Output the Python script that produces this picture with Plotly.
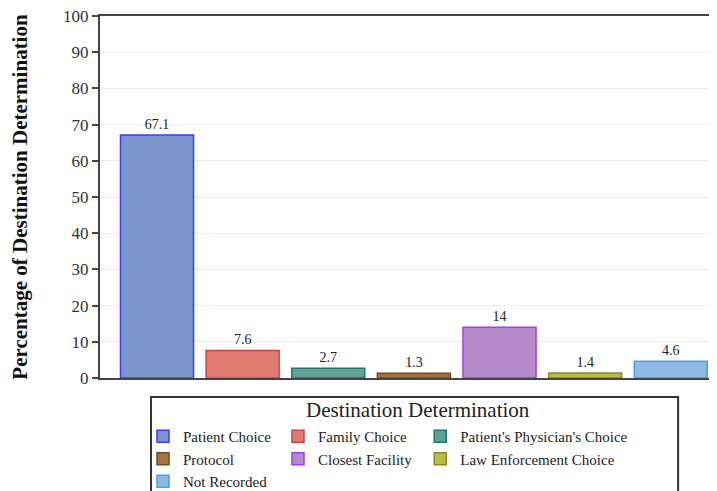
import plotly.graph_objects as go

categories = ["Patient Choice", "Family Choice", "Patient's Physician's Choice",
              "Protocol", "Closest Facility", "Law Enforcement Choice", "Not Recorded"]
values = [67.1, 7.6, 2.7, 1.3, 14, 1.4, 4.6]
labels = ["67.1", "7.6", "2.7", "1.3", "14", "1.4", "4.6"]
fills = ["#7b96cd", "#e07c6f", "#5fa295", "#a5733f", "#b689c9", "#b9b94c", "#8fb9e2"]
lines = ["#3b3bf5", "#d0404a", "#1e7a6a", "#7a4a1c", "#a040e8", "#8c8c1a", "#40a0f5"]
legend_groups = ["legend", "legend2", "legend3", "legend", "legend2", "legend3", "legend"]
ytick_vals = [0, 10, 20, 30, 40, 50, 60, 70, 80, 90, 100]

FONT = "Liberation Serif, Times New Roman, serif"

fig = go.Figure()
for i, cat in enumerate(categories):
    fig.add_trace(go.Bar(
        x=[cat], y=[values[i]], name=cat,
        marker=dict(color=fills[i], line=dict(color=lines[i], width=1.5)),
        width=0.853,
        text=[labels[i]], textposition="outside",
        textfont=dict(family=FONT, size=14, color="#222"),
        cliponaxis=False,
        legend=legend_groups[i],
    ))

leg_common = dict(orientation="v", yanchor="top", xanchor="left",
                  bgcolor="rgba(0,0,0,0)", borderwidth=0,
                  font=dict(family=FONT, size=15, color="#222"),
                  itemclick=False, itemdoubleclick=False, tracegroupgap=0)

fig.update_layout(
    width=709, height=483,
    margin=dict(l=92, r=0, t=8, b=113, autoexpand=False),
    paper_bgcolor="white", plot_bgcolor="white",
    barmode="overlay",
    showlegend=True,
    legend=dict(x=0.0697, y=-0.116, **leg_common),
    legend2=dict(x=0.2885, y=-0.116, **leg_common),
    legend3=dict(x=0.519, y=-0.116, **leg_common),
    xaxis=dict(categoryorder="array", categoryarray=categories,
               range=[-0.666, 6.54], showticklabels=False, ticks="",
               showgrid=False, showline=True, mirror=True,
               linecolor="#444", linewidth=2, zeroline=False),
    yaxis=dict(range=[0, 100], tickvals=ytick_vals, ticks="outside", ticklen=6,
               tickwidth=2, tickcolor="#444", ticklabeloverflow="allow",
               showline=True, linecolor="#444", linewidth=2,
               showgrid=True, gridcolor="#ececec", gridwidth=1, zeroline=False,
               tickfont=dict(family=FONT, size=17, color="#333"),
               title=dict(text="<b>Percentage of Destination Determination</b>",
                          font=dict(family=FONT, size=21, color="#111"),
                          standoff=34)),
    shapes=[dict(type="rect", xref="paper", yref="paper",
                 x0=0.0827, x1=0.937, y0=-0.0525, y1=-0.33,
                 line=dict(color="#333", width=2), fillcolor="rgba(0,0,0,0)")],
    annotations=[dict(text="Destination Determination", xref="paper", yref="paper",
                      x=0.515, y=-0.088, xanchor="center", yanchor="middle",
                      showarrow=False, font=dict(family=FONT, size=21, color="#222"))],
)

fig.write_html("out.html")
